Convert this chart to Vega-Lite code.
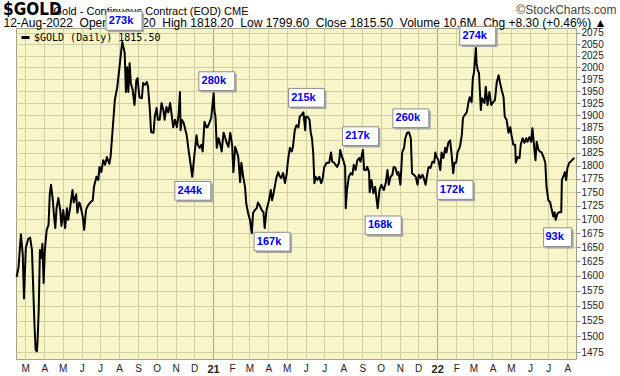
{
 "$schema": "https://vega.github.io/schema/vega-lite/v6.json",
 "width": 560,
 "height": 331,
 "autosize": {"type": "none"},
 "padding": {"left": 16, "top": 28, "right": 44, "bottom": 17},
 "background": "white",
 "config": {
  "view": {"fill": "#F8F6C8", "stroke": "#A2A28C", "strokeWidth": 1},
  "font": "Liberation Sans"
 },
 "title": {
  "text": "$GOLD",
  "anchor": "start",
  "frame": "group",
  "dx": -13,
  "offset": -16,
  "font": "Liberation Sans Narrow, DejaVu Sans Condensed, Liberation Sans",
  "fontSize": 17,
  "fontWeight": "bold",
  "color": "#000000"
 },
 "resolve": {"axis": {"x": "independent"}},
 "datasets": {
  "prices": [
   {"date": "2020-02-16", "price": 1598}, {"date": "2020-02-19", "price": 1614}, {"date": "2020-02-23", "price": 1673}, {"date": "2020-02-26", "price": 1637}, {"date": "2020-02-28", "price": 1562},
   {"date": "2020-03-02", "price": 1649}, {"date": "2020-03-06", "price": 1665}, {"date": "2020-03-09", "price": 1667}, {"date": "2020-03-12", "price": 1645}, {"date": "2020-03-14", "price": 1581},
   {"date": "2020-03-16", "price": 1521}, {"date": "2020-03-18", "price": 1478}, {"date": "2020-03-20", "price": 1476}, {"date": "2020-03-21", "price": 1489}, {"date": "2020-03-23", "price": 1543},
   {"date": "2020-03-25", "price": 1645}, {"date": "2020-03-27", "price": 1631}, {"date": "2020-03-29", "price": 1656}, {"date": "2020-03-31", "price": 1588}, {"date": "2020-04-02", "price": 1645},
   {"date": "2020-04-05", "price": 1681}, {"date": "2020-04-08", "price": 1690}, {"date": "2020-04-10", "price": 1746}, {"date": "2020-04-12", "price": 1764}, {"date": "2020-04-15", "price": 1735},
   {"date": "2020-04-17", "price": 1705}, {"date": "2020-04-19", "price": 1684}, {"date": "2020-04-21", "price": 1720}, {"date": "2020-04-24", "price": 1739}, {"date": "2020-04-27", "price": 1717},
   {"date": "2020-04-29", "price": 1688}, {"date": "2020-05-02", "price": 1717}, {"date": "2020-05-05", "price": 1684}, {"date": "2020-05-08", "price": 1720}, {"date": "2020-05-10", "price": 1699},
   {"date": "2020-05-13", "price": 1720}, {"date": "2020-05-17", "price": 1754}, {"date": "2020-05-19", "price": 1731}, {"date": "2020-05-23", "price": 1746}, {"date": "2020-05-25", "price": 1712},
   {"date": "2020-05-28", "price": 1731}, {"date": "2020-05-30", "price": 1725}, {"date": "2020-06-03", "price": 1703}, {"date": "2020-06-05", "price": 1681}, {"date": "2020-06-08", "price": 1717},
   {"date": "2020-06-11", "price": 1725}, {"date": "2020-06-15", "price": 1731}, {"date": "2020-06-19", "price": 1735}, {"date": "2020-06-21", "price": 1760}, {"date": "2020-06-25", "price": 1779},
   {"date": "2020-06-28", "price": 1773}, {"date": "2020-06-30", "price": 1798}, {"date": "2020-07-03", "price": 1788}, {"date": "2020-07-06", "price": 1811}, {"date": "2020-07-09", "price": 1802},
   {"date": "2020-07-12", "price": 1817}, {"date": "2020-07-16", "price": 1804}, {"date": "2020-07-18", "price": 1817}, {"date": "2020-07-21", "price": 1865}, {"date": "2020-07-25", "price": 1932},
   {"date": "2020-07-29", "price": 1959}, {"date": "2020-08-01", "price": 1994}, {"date": "2020-08-04", "price": 2031}, {"date": "2020-08-06", "price": 2055}, {"date": "2020-08-09", "price": 2038},
   {"date": "2020-08-10", "price": 2031}, {"date": "2020-08-12", "price": 1948}, {"date": "2020-08-14", "price": 2000}, {"date": "2020-08-16", "price": 1948}, {"date": "2020-08-18", "price": 2009},
   {"date": "2020-08-20", "price": 1967}, {"date": "2020-08-23", "price": 1952}, {"date": "2020-08-26", "price": 1921}, {"date": "2020-08-29", "price": 1973}, {"date": "2020-08-31", "price": 1977},
   {"date": "2020-09-03", "price": 1937}, {"date": "2020-09-07", "price": 1935}, {"date": "2020-09-09", "price": 1967}, {"date": "2020-09-12", "price": 1963}, {"date": "2020-09-15", "price": 1969},
   {"date": "2020-09-17", "price": 1959}, {"date": "2020-09-20", "price": 1911}, {"date": "2020-09-22", "price": 1866}, {"date": "2020-09-26", "price": 1865}, {"date": "2020-09-28", "price": 1897},
   {"date": "2020-10-01", "price": 1915}, {"date": "2020-10-03", "price": 1891}, {"date": "2020-10-06", "price": 1891}, {"date": "2020-10-09", "price": 1925}, {"date": "2020-10-12", "price": 1911},
   {"date": "2020-10-14", "price": 1891}, {"date": "2020-10-17", "price": 1917}, {"date": "2020-10-20", "price": 1906}, {"date": "2020-10-23", "price": 1925}, {"date": "2020-10-25", "price": 1906},
   {"date": "2020-10-28", "price": 1876}, {"date": "2020-10-31", "price": 1891}, {"date": "2020-11-03", "price": 1876}, {"date": "2020-11-06", "price": 1904}, {"date": "2020-11-08", "price": 1948},
   {"date": "2020-11-09", "price": 1870}, {"date": "2020-11-11", "price": 1891}, {"date": "2020-11-14", "price": 1885}, {"date": "2020-11-17", "price": 1870}, {"date": "2020-11-19", "price": 1860},
   {"date": "2020-11-22", "price": 1831}, {"date": "2020-11-25", "price": 1806}, {"date": "2020-11-28", "price": 1779}, {"date": "2020-12-02", "price": 1826}, {"date": "2020-12-05", "price": 1860},
   {"date": "2020-12-07", "price": 1841}, {"date": "2020-12-10", "price": 1835}, {"date": "2020-12-13", "price": 1841}, {"date": "2020-12-15", "price": 1828}, {"date": "2020-12-18", "price": 1887},
   {"date": "2020-12-21", "price": 1876}, {"date": "2020-12-23", "price": 1876}, {"date": "2020-12-26", "price": 1885}, {"date": "2020-12-29", "price": 1895},
   {"date": "2021-01-02", "price": 1948}, {"date": "2021-01-03", "price": 1911}, {"date": "2021-01-05", "price": 1895}, {"date": "2021-01-07", "price": 1835}, {"date": "2021-01-10", "price": 1854},
   {"date": "2021-01-12", "price": 1845}, {"date": "2021-01-15", "price": 1828}, {"date": "2021-01-18", "price": 1865}, {"date": "2021-01-21", "price": 1854}, {"date": "2021-01-23", "price": 1845},
   {"date": "2021-01-26", "price": 1837}, {"date": "2021-01-29", "price": 1865}, {"date": "2021-02-01", "price": 1841}, {"date": "2021-02-03", "price": 1788}, {"date": "2021-02-06", "price": 1837},
   {"date": "2021-02-09", "price": 1826}, {"date": "2021-02-11", "price": 1817}, {"date": "2021-02-14", "price": 1769}, {"date": "2021-02-16", "price": 1806}, {"date": "2021-02-19", "price": 1779},
   {"date": "2021-02-22", "price": 1760}, {"date": "2021-02-24", "price": 1729}, {"date": "2021-02-27", "price": 1711}, {"date": "2021-03-02", "price": 1699}, {"date": "2021-03-05", "price": 1675},
   {"date": "2021-03-07", "price": 1711}, {"date": "2021-03-10", "price": 1717}, {"date": "2021-03-13", "price": 1720}, {"date": "2021-03-15", "price": 1731}, {"date": "2021-03-18", "price": 1725},
   {"date": "2021-03-21", "price": 1717}, {"date": "2021-03-24", "price": 1713}, {"date": "2021-03-26", "price": 1684}, {"date": "2021-03-29", "price": 1717}, {"date": "2021-04-02", "price": 1735},
   {"date": "2021-04-05", "price": 1754}, {"date": "2021-04-07", "price": 1735}, {"date": "2021-04-09", "price": 1745}, {"date": "2021-04-12", "price": 1764}, {"date": "2021-04-14", "price": 1777},
   {"date": "2021-04-17", "price": 1788}, {"date": "2021-04-20", "price": 1779}, {"date": "2021-04-22", "price": 1777}, {"date": "2021-04-25", "price": 1786}, {"date": "2021-04-28", "price": 1767},
   {"date": "2021-05-01", "price": 1786}, {"date": "2021-05-03", "price": 1811}, {"date": "2021-05-06", "price": 1835}, {"date": "2021-05-09", "price": 1828}, {"date": "2021-05-11", "price": 1837},
   {"date": "2021-05-14", "price": 1870}, {"date": "2021-05-17", "price": 1880}, {"date": "2021-05-20", "price": 1876}, {"date": "2021-05-22", "price": 1897}, {"date": "2021-05-25", "price": 1901},
   {"date": "2021-05-28", "price": 1906}, {"date": "2021-05-31", "price": 1870}, {"date": "2021-06-01", "price": 1897}, {"date": "2021-06-04", "price": 1897}, {"date": "2021-06-07", "price": 1891},
   {"date": "2021-06-09", "price": 1865}, {"date": "2021-06-11", "price": 1854}, {"date": "2021-06-13", "price": 1826}, {"date": "2021-06-15", "price": 1767}, {"date": "2021-06-17", "price": 1779},
   {"date": "2021-06-20", "price": 1773}, {"date": "2021-06-23", "price": 1779}, {"date": "2021-06-26", "price": 1767}, {"date": "2021-06-28", "price": 1773}, {"date": "2021-07-01", "price": 1798},
   {"date": "2021-07-05", "price": 1806}, {"date": "2021-07-09", "price": 1806}, {"date": "2021-07-12", "price": 1826}, {"date": "2021-07-14", "price": 1808}, {"date": "2021-07-17", "price": 1806},
   {"date": "2021-07-22", "price": 1798}, {"date": "2021-07-25", "price": 1806}, {"date": "2021-07-27", "price": 1831}, {"date": "2021-07-30", "price": 1817}, {"date": "2021-08-01", "price": 1811},
   {"date": "2021-08-04", "price": 1798}, {"date": "2021-08-05", "price": 1720}, {"date": "2021-08-07", "price": 1754}, {"date": "2021-08-10", "price": 1779}, {"date": "2021-08-13", "price": 1786},
   {"date": "2021-08-16", "price": 1783}, {"date": "2021-08-18", "price": 1802}, {"date": "2021-08-21", "price": 1792}, {"date": "2021-08-24", "price": 1811}, {"date": "2021-08-27", "price": 1815},
   {"date": "2021-08-29", "price": 1808}, {"date": "2021-09-02", "price": 1831}, {"date": "2021-09-04", "price": 1792}, {"date": "2021-09-07", "price": 1792}, {"date": "2021-09-09", "price": 1798},
   {"date": "2021-09-12", "price": 1788}, {"date": "2021-09-13", "price": 1750}, {"date": "2021-09-16", "price": 1773}, {"date": "2021-09-19", "price": 1748}, {"date": "2021-09-22", "price": 1760},
   {"date": "2021-09-24", "price": 1739}, {"date": "2021-09-26", "price": 1720}, {"date": "2021-09-29", "price": 1754}, {"date": "2021-10-02", "price": 1764}, {"date": "2021-10-06", "price": 1754},
   {"date": "2021-10-09", "price": 1767}, {"date": "2021-10-12", "price": 1792}, {"date": "2021-10-14", "price": 1764}, {"date": "2021-10-17", "price": 1779}, {"date": "2021-10-20", "price": 1783},
   {"date": "2021-10-22", "price": 1798}, {"date": "2021-10-25", "price": 1796}, {"date": "2021-10-28", "price": 1783}, {"date": "2021-10-30", "price": 1788}, {"date": "2021-11-02", "price": 1764},
   {"date": "2021-11-05", "price": 1826}, {"date": "2021-11-08", "price": 1835}, {"date": "2021-11-10", "price": 1854}, {"date": "2021-11-13", "price": 1865}, {"date": "2021-11-16", "price": 1866},
   {"date": "2021-11-19", "price": 1854}, {"date": "2021-11-21", "price": 1786}, {"date": "2021-11-24", "price": 1783}, {"date": "2021-11-27", "price": 1779}, {"date": "2021-11-30", "price": 1764},
   {"date": "2021-12-02", "price": 1783}, {"date": "2021-12-05", "price": 1777}, {"date": "2021-12-08", "price": 1783}, {"date": "2021-12-10", "price": 1777}, {"date": "2021-12-13", "price": 1764},
   {"date": "2021-12-16", "price": 1786}, {"date": "2021-12-18", "price": 1798}, {"date": "2021-12-21", "price": 1796}, {"date": "2021-12-24", "price": 1808}, {"date": "2021-12-27", "price": 1806},
   {"date": "2021-12-29", "price": 1826}, {"date": "2021-12-31", "price": 1817},
   {"date": "2022-01-03", "price": 1811}, {"date": "2022-01-06", "price": 1792}, {"date": "2022-01-08", "price": 1826}, {"date": "2022-01-11", "price": 1815}, {"date": "2022-01-14", "price": 1835},
   {"date": "2022-01-16", "price": 1826}, {"date": "2022-01-19", "price": 1845}, {"date": "2022-01-22", "price": 1850}, {"date": "2022-01-24", "price": 1828}, {"date": "2022-01-27", "price": 1786},
   {"date": "2022-01-29", "price": 1806}, {"date": "2022-02-01", "price": 1806}, {"date": "2022-02-03", "price": 1826}, {"date": "2022-02-07", "price": 1837}, {"date": "2022-02-10", "price": 1860},
   {"date": "2022-02-12", "price": 1895}, {"date": "2022-02-15", "price": 1901}, {"date": "2022-02-18", "price": 1906}, {"date": "2022-02-21", "price": 1927}, {"date": "2022-02-23", "price": 1937},
   {"date": "2022-02-26", "price": 1927}, {"date": "2022-02-28", "price": 1977}, {"date": "2022-03-02", "price": 1990}, {"date": "2022-03-05", "price": 2042}, {"date": "2022-03-06", "price": 2009},
   {"date": "2022-03-08", "price": 1994}, {"date": "2022-03-10", "price": 1988}, {"date": "2022-03-13", "price": 1911}, {"date": "2022-03-15", "price": 1935}, {"date": "2022-03-19", "price": 1925},
   {"date": "2022-03-21", "price": 1959}, {"date": "2022-03-24", "price": 1921}, {"date": "2022-03-27", "price": 1948}, {"date": "2022-03-30", "price": 1921}, {"date": "2022-04-01", "price": 1925},
   {"date": "2022-04-05", "price": 1931}, {"date": "2022-04-08", "price": 1969}, {"date": "2022-04-11", "price": 1983}, {"date": "2022-04-13", "price": 1969}, {"date": "2022-04-16", "price": 1952},
   {"date": "2022-04-19", "price": 1937}, {"date": "2022-04-21", "price": 1897}, {"date": "2022-04-24", "price": 1891}, {"date": "2022-04-27", "price": 1865}, {"date": "2022-04-30", "price": 1876},
   {"date": "2022-05-02", "price": 1860}, {"date": "2022-05-05", "price": 1841}, {"date": "2022-05-08", "price": 1841}, {"date": "2022-05-09", "price": 1806}, {"date": "2022-05-12", "price": 1817},
   {"date": "2022-05-15", "price": 1815}, {"date": "2022-05-17", "price": 1841}, {"date": "2022-05-20", "price": 1854}, {"date": "2022-05-23", "price": 1845}, {"date": "2022-05-26", "price": 1854},
   {"date": "2022-05-28", "price": 1847}, {"date": "2022-05-31", "price": 1856}, {"date": "2022-06-03", "price": 1847}, {"date": "2022-06-05", "price": 1874}, {"date": "2022-06-08", "price": 1835},
   {"date": "2022-06-10", "price": 1811}, {"date": "2022-06-12", "price": 1847}, {"date": "2022-06-15", "price": 1831}, {"date": "2022-06-17", "price": 1828}, {"date": "2022-06-20", "price": 1826},
   {"date": "2022-06-23", "price": 1817}, {"date": "2022-06-26", "price": 1806}, {"date": "2022-06-28", "price": 1760}, {"date": "2022-07-01", "price": 1735}, {"date": "2022-07-04", "price": 1731},
   {"date": "2022-07-06", "price": 1720}, {"date": "2022-07-09", "price": 1705}, {"date": "2022-07-11", "price": 1713}, {"date": "2022-07-13", "price": 1699}, {"date": "2022-07-16", "price": 1711},
   {"date": "2022-07-19", "price": 1713}, {"date": "2022-07-22", "price": 1713}, {"date": "2022-07-23", "price": 1773}, {"date": "2022-07-25", "price": 1779}, {"date": "2022-07-28", "price": 1788},
   {"date": "2022-07-30", "price": 1773}, {"date": "2022-08-01", "price": 1796}, {"date": "2022-08-04", "price": 1806}, {"date": "2022-08-06", "price": 1808}, {"date": "2022-08-12", "price": 1815.5}
  ],
  "oi": [
   {"date": "2020-08-09", "price": 2101.8, "label": "273k"},
   {"date": "2020-11-29", "price": 1752.6, "label": "244k"},
   {"date": "2021-01-07", "price": 1970.7, "label": "280k"},
   {"date": "2021-04-07", "price": 1659.8, "label": "167k"},
   {"date": "2021-06-02", "price": 1936.0, "label": "215k"},
   {"date": "2021-08-29", "price": 1858.1, "label": "217k"},
   {"date": "2021-10-05", "price": 1689.0, "label": "168k"},
   {"date": "2021-11-19", "price": 1894.0, "label": "260k"},
   {"date": "2022-01-30", "price": 1754.1, "label": "172k"},
   {"date": "2022-03-08", "price": 2068.8, "label": "274k"},
   {"date": "2022-07-16", "price": 1667.7, "label": "93k"}
  ]
 },
 "layer": [
  {
   "data": {"name": "prices"},
   "mark": {"type": "line", "strokeWidth": 2, "strokeJoin": "round"},
   "encoding": {
    "x": {
     "field": "date", "type": "temporal",
     "scale": {"domain": [{"year": 2020, "month": "feb", "date": 15}, {"year": 2022, "month": "aug", "date": 15}]},
     "axis": {
      "tickCount": {"interval": "month", "step": 1},
      "labelExpr": "month(datum.value) == 0 ? timeFormat(datum.value, '%y') : slice(timeFormat(datum.value, '%b'), 0, 1)",
      "labelFontWeight": {"condition": {"test": "month(datum.value) == 0", "value": "bold"}, "value": "normal"},
      "labelFontSize": {"condition": {"test": "month(datum.value) == 0", "value": 11}, "value": 10},
      "labelFont": "Liberation Sans",
      "labelColor": "#222222",
      "labelPadding": 4,
      "labelOverlap": false,
      "labelFlush": false,
      "tickSize": 0,
      "domain": false,
      "grid": true,
      "gridColor": {"condition": {"test": "month(datum.value) == 0", "value": "#A3AB80"}, "value": "#CFD2A0"},
      "gridWidth": 1,
      "title": "Gold - Continuous Contract (EOD) CME",
      "titleAngle": 0,
      "titleAlign": "left",
      "titleAnchor": "start",
      "titleBaseline": "alphabetic",
      "titleX": 37,
      "titleY": -345,
      "titleFont": "Liberation Sans",
      "titleFontSize": 11,
      "titleFontWeight": "normal",
      "titleColor": "#000000"
     }
    },
    "y": {
     "field": "price", "type": "quantitative",
     "scale": {"type": "log", "domain": [1464, 2086], "nice": false, "zero": false},
     "axis": {
      "orient": "right",
      "values": [1475, 1500, 1525, 1550, 1575, 1600, 1625, 1650, 1675, 1700, 1725, 1750, 1775, 1800, 1825, 1850, 1875, 1900, 1925, 1950, 1975, 2000, 2025, 2050, 2075],
      "format": "d",
      "grid": true,
      "gridColor": "#CFD2A0",
      "gridWidth": 1,
      "domain": false,
      "tickSize": 4,
      "tickColor": "#888888",
      "labelFont": "Liberation Sans",
      "labelFontSize": 10,
      "labelColor": "#222222",
      "labelPadding": 1,
      "title": "\u00a9StockCharts.com",
      "titleAngle": 0,
      "titleAlign": "right",
      "titleBaseline": "alphabetic",
      "titleX": 40,
      "titleY": -15,
      "titleFont": "Liberation Sans",
      "titleFontSize": 12,
      "titleFontWeight": "normal",
      "titleColor": "#444444"
     }
    },
    "color": {
     "datum": "$GOLD (Daily) 1815.50",
     "scale": {"range": ["#000000"]},
     "legend": {
      "orient": "top-left",
      "title": null,
      "offset": 4,
      "padding": 0,
      "symbolType": "stroke",
      "symbolSize": 64,
      "symbolStrokeWidth": 3,
      "labelOffset": 3,
      "labelFont": "DejaVu Sans Mono",
      "labelFontSize": 10,
      "labelColor": "#000000"
     }
    }
   }
  },
  {
   "data": {"name": "oi"},
   "mark": {"type": "point", "filled": true, "fill": "#A8A8A8", "strokeWidth": 0, "opacity": 1, "xOffset": 2, "yOffset": 2},
   "encoding": {
    "x": {"field": "date", "type": "temporal", "axis": null},
    "y": {"field": "price", "type": "quantitative"},
    "shape": {"condition": {"test": "datum.label === '93k'", "value": "M-1,-0.67H1V0.67H-1Z"}, "value": "M-1,-0.52H1V0.52H-1Z"},
    "size": {"condition": {"test": "datum.label === '93k'", "value": 784}, "value": 1296}
   }
  },
  {
   "data": {"name": "oi"},
   "mark": {"type": "point", "filled": true, "fill": "#FFFFFF", "stroke": "#8C8C8C", "strokeWidth": 1, "opacity": 1},
   "encoding": {
    "x": {"field": "date", "type": "temporal", "axis": null},
    "y": {"field": "price", "type": "quantitative"},
    "shape": {"condition": {"test": "datum.label === '93k'", "value": "M-1,-0.67H1V0.67H-1Z"}, "value": "M-1,-0.52H1V0.52H-1Z"},
    "size": {"condition": {"test": "datum.label === '93k'", "value": 784}, "value": 1296}
   }
  },
  {
   "data": {"name": "oi"},
   "mark": {"type": "text", "font": "Liberation Sans", "fontSize": 11, "fontWeight": "bold", "color": "#0000EE", "align": "center", "baseline": "middle", "dx": -3, "dy": 0},
   "encoding": {
    "x": {
     "field": "date", "type": "temporal",
     "axis": {
      "orient": "top",
      "labels": false,
      "ticks": false,
      "domain": false,
      "grid": false,
      "title": "12-Aug-2022\u00a0 Open 1807.20\u00a0 High 1818.20\u00a0 Low 1799.60\u00a0 Close 1815.50\u00a0 Volume 10.6M\u00a0 Chg +8.30 (+0.46%) \u25b2",
      "titleAngle": 0,
      "titleAlign": "left",
      "titleAnchor": "start",
      "titleBaseline": "alphabetic",
      "titleX": -13,
      "titleY": -2,
      "titleFont": "Liberation Sans",
      "titleFontSize": 12,
      "titleFontWeight": "normal",
      "titleColor": "#000000"
     }
    },
    "y": {"field": "price", "type": "quantitative"},
    "text": {"field": "label"}
   }
  }
 ]
}
